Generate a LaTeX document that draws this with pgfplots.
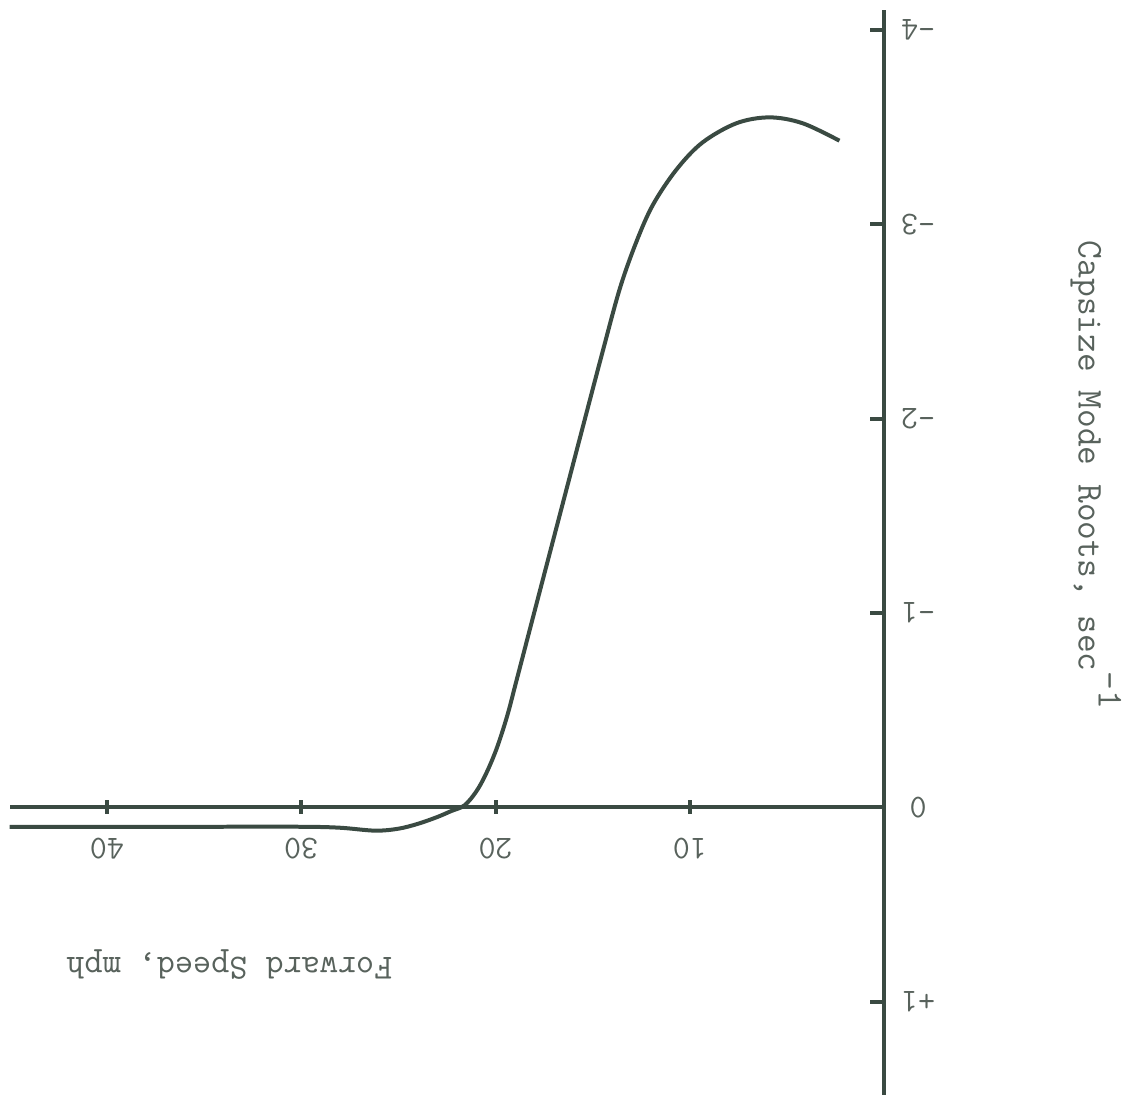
\documentclass[border=0pt]{standalone}
\usepackage{fontspec}
\usepackage{pgfplots}
\pgfplotsset{compat=1.18}
\definecolor{axcol}{RGB}{58,74,66}
\definecolor{txtcol}{RGB}{88,98,92}
\begin{document}
\begin{tikzpicture}
\begin{axis}[
  scale only axis, width=437.6pt, height=542.7pt,
  xmin=0, xmax=45, ymin=-4.1, ymax=1.48,
  x dir=reverse, y dir=reverse,
  axis lines=middle,
  axis line style={-, line width=2pt, color=axcol},
  enlargelimits=false, clip=false,
  hide obscured x ticks=false, hide obscured y ticks=false,
  /pgf/number format/assume math mode=true,
  xtick={10,20,30,40},
  ytick={-4,-3,-2,-1,0,1},
  yticklabels={-4,-3,-2,-1,0,+1},
  xtick align=center, ytick align=inside,
  major tick length=7pt,
  every tick/.style={axcol, line width=2pt},
  xticklabel style={anchor=center, yshift=-17pt, rotate=180, font=\ttfamily\fontsize{16.5}{18}\selectfont, text=txtcol},
  yticklabel style={anchor=center, xshift=17pt, rotate=180, font=\ttfamily\fontsize{16.5}{18}\selectfont, text=txtcol},
]
\addplot[axcol, line width=2pt, smooth, tension=0.55] coordinates {
(45.0,0.10) (40,0.10) (35,0.10) (30,0.10) (28,0.105) (26.2,0.12) (25,0.11)
(24,0.085) (23,0.05) (22.3,0.02) (21.6,-0.01) (21.0,-0.08) (20.5,-0.17) (19.95,-0.30)
(19.4,-0.47) (18.9,-0.66) (17.7,-1.12) (16.6,-1.54) (15.5,-1.96) (14.5,-2.34) (13.6,-2.67)
(12.75,-2.91) (11.9,-3.10) (10.7,-3.28) (9.36,-3.42) (7.6,-3.52) (5.9,-3.55)
(4.2,-3.52) (2.3,-3.43)
};
\node[rotate=180, text=txtcol, font=\ttfamily\fontsize{17.6}{20}\selectfont] at (axis cs:33.7,0.81) {Forward Speed, mph};
\node[rotate=-90, text=txtcol, font=\ttfamily\fontsize{18.2}{20}\selectfont] at (axis cs:-10.9,-1.71) {Capsize Mode Roots, sec\raisebox{0.55em}{-1}};
\path (axis cs:45.5,-4.154) rectangle (axis cs:-12.49,1.517);
\end{axis}
\end{tikzpicture}
\end{document}
